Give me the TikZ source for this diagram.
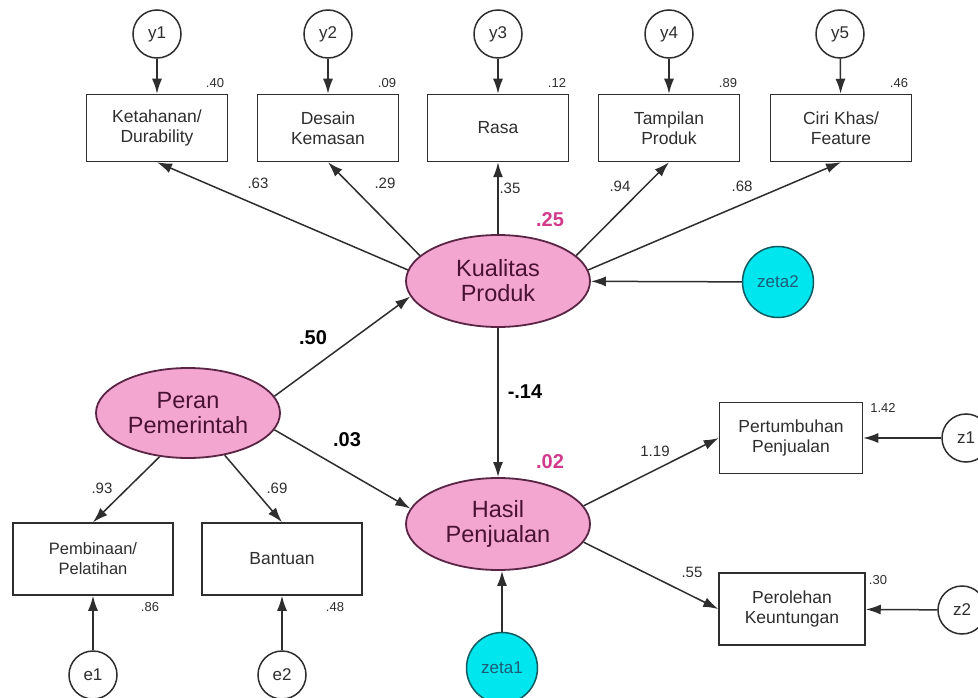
\documentclass[tikz,border=0pt]{standalone}
\usepackage{fontspec}
\setmainfont{Liberation Sans}
\usetikzlibrary{shapes.geometric,arrows.meta}
\definecolor{pinkfill}{HTML}{F3A6CF}
\definecolor{pinkline}{HTML}{5A2444}
\definecolor{pinktext}{HTML}{4A1232}
\definecolor{cyanfill}{HTML}{00E6EE}
\definecolor{cyanline}{HTML}{115A60}
\definecolor{cyantext}{HTML}{1B5C78}
\definecolor{magnum}{HTML}{D23A8C}
\definecolor{ink}{HTML}{2E2E2E}
\begin{document}
\begin{tikzpicture}[x=1pt,y=-1pt,
  obs/.style={draw=ink, line width=1.5pt, fill=white, minimum width=141pt, minimum height=67pt, inner sep=0pt, align=center, font=\fontsize{17.5}{20}\selectfont, text=ink},
  lat/.style={ellipse, draw=pinkline, line width=1.8pt, fill=pinkfill, minimum width=184pt, minimum height=92pt, inner sep=0pt, align=center, font=\fontsize{23.5}{25}\selectfont, text=pinktext},
  err/.style={circle, draw=ink, line width=1.5pt, fill=white, minimum size=48pt, inner sep=0pt, font=\fontsize{17}{17}\selectfont, text=ink},
  res/.style={circle, draw=cyanline, line width=1.5pt, fill=cyanfill, minimum size=71pt, inner sep=0pt, font=\fontsize{17}{17}\selectfont, text=cyantext},
  arr/.style={-{Latex[length=15pt,width=10pt]}, line width=1.5pt, draw=ink},
  lbl/.style={inner sep=0pt, font=\fontsize{15}{15}\selectfont, text=ink},
  slbl/.style={inner sep=0pt, font=\fontsize{13}{13}\selectfont, text=ink},
  blbl/.style={inner sep=0pt, font=\bfseries\fontsize{20}{20}\selectfont, text=black},
  plbl/.style={inner sep=0pt, font=\bfseries\fontsize{20}{20}\selectfont, text=magnum}]
\useasboundingbox (0,0) rectangle (978,698);
\clip (0,0) rectangle (978,698);
\fill[white] (0,0) rectangle (978,698);

% top indicators
\node[err] (y1) at (157,34) {y1};
\node[err] (y2) at (328,34) {y2};
\node[err] (y3) at (498,34) {y3};
\node[err] (y4) at (669,34) {y4};
\node[err] (y5) at (840,34) {y5};
\node[obs] (ket) at (157,128) {Ketahanan/\\Durability};
\node[obs] (des) at (328,128) {Desain\\Kemasan};
\node[obs] (ras) at (498,128) {Rasa};
\node[obs] (tam) at (669,128) {Tampilan\\Produk};
\node[obs] (cir) at (841,128) {Ciri Khas/\\Feature};

% latent
\node[lat] (kp) at (498,281) {Kualitas\\Produk};
\node[lat, minimum height=90pt] (pp) at (188,413) {Peran\\Pemerintah};
\node[lat] (hp) at (498,524) {Hasil\\Penjualan};
\node[res] (zeta2) at (778,282) {zeta2};
\node[res] (zeta1) at (502,668) {zeta1};

% right indicators
\node[obs, minimum width=143pt, minimum height=71pt] (pert) at (791,438) {Pertumbuhan\\Penjualan};
\node[obs, minimum width=146pt, minimum height=72pt] (perol) at (792,609) {Perolehan\\Keuntungan};
\node[err] (z1) at (966,438) {z1};
\node[err] (z2) at (962,610) {z2};

% left indicators
\node[obs, minimum width=160pt, minimum height=72pt, font=\fontsize{16.5}{20}\selectfont] (pemb) at (93,559) {Pembinaan/\\Pelatihan};
\node[obs, minimum width=160pt, minimum height=72pt] (bant) at (282,559) {Bantuan};
\node[err] (e1) at (93,675) {e1};
\node[err] (e2) at (282,675) {e2};

% arrows
\foreach \a/\b in {y1/ket, y2/des, y3/ras, y4/tam, y5/cir} \draw[arr] (\a) -- (\b);
\draw[arr] (kp.173) -- (ket.south);
\draw[arr] (kp.162) -- (des.south);
\draw[arr] (kp.north) -- (ras.south);
\draw[arr] (kp.18) -- (tam.south);
\draw[arr] (kp.7) -- (cir.south);
\draw[arr] (zeta2) -- (kp);
\draw[arr] (pp.11) -- (kp.190);
\draw[arr] (pp.349) -- (hp.170);
\draw[arr] (kp.south) -- (hp.north);
\draw[arr] (zeta1.north) -- (zeta1.north |- hp.south);
\draw[arr] (hp.12) -- (pert.west);
\draw[arr] (hp.348) -- (perol.west);
\draw[arr] (z1) -- (pert);
\draw[arr] (z2) -- (perol);
\draw[arr] (pp.237) -- (pemb.north);
\draw[arr] (pp.311) -- (bant.north);
\draw[arr] (e1) -- (pemb);
\draw[arr] (e2) -- (bant);

% labels
\node[slbl] (l40) at (215,83) {.40};
\node[slbl] (l09) at (387,83) {.09};
\node[slbl] (l12) at (557,83) {.12};
\node[slbl] (l89) at (728,83) {.89};
\node[slbl] (l46) at (899,83) {.46};
\node[lbl] (l63) at (258,183) {.63};
\node[lbl] (l29) at (385,183) {.29};
\node[lbl] (l35) at (510,188) {.35};
\node[lbl] (l94) at (620,186) {.94};
\node[lbl] (l68) at (742,186) {.68};
\node[plbl] (l25) at (550,220) {.25};
\node[blbl] (l50) at (313,338) {.50};
\node[blbl] (l03) at (347,440) {.03};
\node[blbl] (l14) at (525,392) {-.14};
\node[plbl] (l02) at (550,462) {.02};
\node[lbl] (l119) at (655,451) {1.19};
\node[slbl] (l142) at (883,408) {1.42};
\node[lbl] (l55) at (692,572) {.55};
\node[slbl] (l30) at (878,580) {.30};
\node[lbl] (l93) at (102,488) {.93};
\node[lbl] (l69) at (277,488) {.69};
\node[slbl] (l86) at (150,607) {.86};
\node[slbl] (l48) at (335,607) {.48};
\end{tikzpicture}
\end{document}
